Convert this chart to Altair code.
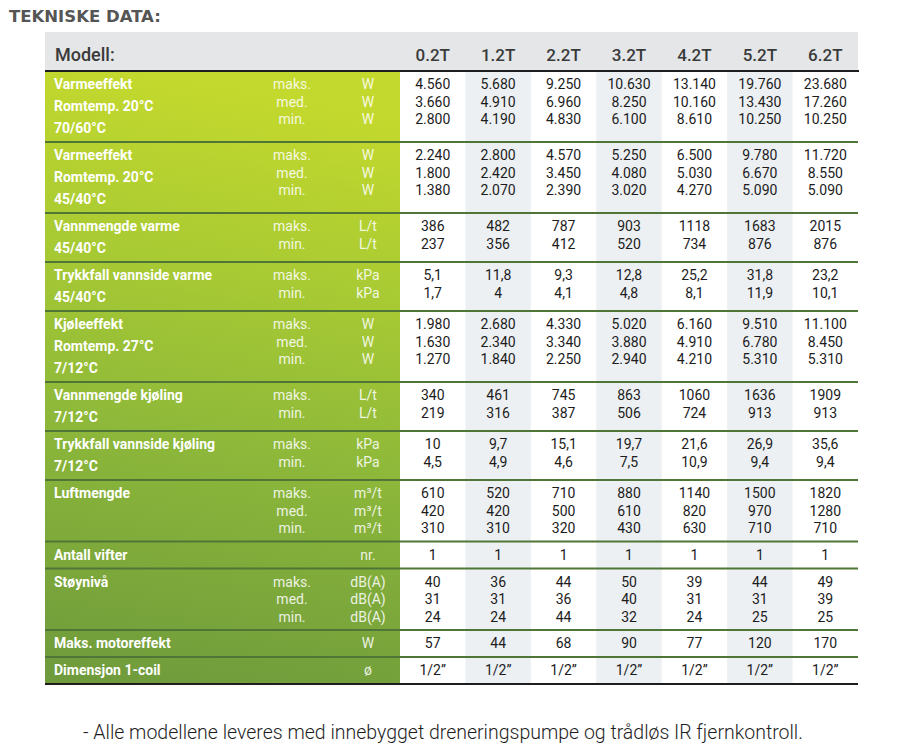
import altair as alt
import pandas as pd

# ---------------- data ----------------
title_text = "TEKNISKE DATA:"
header_label = "Modell:"
footnote = "- Alle modellene leveres med innebygget dreneringspumpe og trådløs IR fjernkontroll."

models = ["0.2T", "1.2T", "2.2T", "3.2T", "4.2T", "5.2T", "6.2T"]

row_labels = [
    ["Varmeeffekt", "Romtemp. 20°C", "70/60°C"],
    ["Varmeeffekt", "Romtemp. 20°C", "45/40°C"],
    ["Vannmengde varme", "45/40°C"],
    ["Trykkfall vannside varme", "45/40°C"],
    ["Kjøleeffekt", "Romtemp. 27°C", "7/12°C"],
    ["Vannmengde kjøling", "7/12°C"],
    ["Trykkfall vannside kjøling", "7/12°C"],
    ["Luftmengde"],
    ["Antall vifter"],
    ["Støynivå"],
    ["Maks. motoreffekt"],
    ["Dimensjon 1-coil"],
]

row_levels = [
    ["maks.", "med.", "min."],
    ["maks.", "med.", "min."],
    ["maks.", "min."],
    ["maks.", "min."],
    ["maks.", "med.", "min."],
    ["maks.", "min."],
    ["maks.", "min."],
    ["maks.", "med.", "min."],
    [""],
    ["maks.", "med.", "min."],
    [""],
    [""],
]

row_units = [
    ["W", "W", "W"],
    ["W", "W", "W"],
    ["L/t", "L/t"],
    ["kPa", "kPa"],
    ["W", "W", "W"],
    ["L/t", "L/t"],
    ["kPa", "kPa"],
    ["m³/t", "m³/t", "m³/t"],
    ["nr."],
    ["dB(A)", "dB(A)", "dB(A)"],
    ["W"],
    ["ø"],
]

row_values = [
    [["4.560", "5.680", "9.250", "10.630", "13.140", "19.760", "23.680"],
     ["3.660", "4.910", "6.960", "8.250", "10.160", "13.430", "17.260"],
     ["2.800", "4.190", "4.830", "6.100", "8.610", "10.250", "10.250"]],
    [["2.240", "2.800", "4.570", "5.250", "6.500", "9.780", "11.720"],
     ["1.800", "2.420", "3.450", "4.080", "5.030", "6.670", "8.550"],
     ["1.380", "2.070", "2.390", "3.020", "4.270", "5.090", "5.090"]],
    [["386", "482", "787", "903", "1118", "1683", "2015"],
     ["237", "356", "412", "520", "734", "876", "876"]],
    [["5,1", "11,8", "9,3", "12,8", "25,2", "31,8", "23,2"],
     ["1,7", "4", "4,1", "4,8", "8,1", "11,9", "10,1"]],
    [["1.980", "2.680", "4.330", "5.020", "6.160", "9.510", "11.100"],
     ["1.630", "2.340", "3.340", "3.880", "4.910", "6.780", "8.450"],
     ["1.270", "1.840", "2.250", "2.940", "4.210", "5.310", "5.310"]],
    [["340", "461", "745", "863", "1060", "1636", "1909"],
     ["219", "316", "387", "506", "724", "913", "913"]],
    [["10", "9,7", "15,1", "19,7", "21,6", "26,9", "35,6"],
     ["4,5", "4,9", "4,6", "7,5", "10,9", "9,4", "9,4"]],
    [["610", "520", "710", "880", "1140", "1500", "1820"],
     ["420", "420", "500", "610", "820", "970", "1280"],
     ["310", "310", "320", "430", "630", "710", "710"]],
    [["1", "1", "1", "1", "1", "1", "1"]],
    [["40", "36", "44", "50", "39", "44", "49"],
     ["31", "31", "36", "40", "31", "31", "39"],
     ["24", "24", "44", "32", "24", "25", "25"]],
    [["57", "44", "68", "90", "77", "120", "170"]],
    [["1/2”", "1/2”", "1/2”", "1/2”", "1/2”", "1/2”", "1/2”"]],
]

# ---------------- layout ----------------
W, H, M = 884, 736, 8
TABLE_L, TABLE_R, GREEN_R = 45, 858, 400
HEAD_TOP, HEAD_BOT = 32, 71
LABEL_X, LEVEL_X, UNIT_X = 54, 292, 368
LABEL_STEP, VALUE_STEP, FIRST = 22, 17.5, 14
col_w = (TABLE_R - GREEN_R) / len(models)
col_c = [GREEN_R + col_w * (i + 0.5) for i in range(len(models))]

tops = []
y = HEAD_BOT
for labs, lev in zip(row_labels, row_levels):
    tops.append(y)
    h = max(LABEL_STEP * len(labs) + 5, VALUE_STEP * len(lev) + 9)
    y += h
bottom = y

xs = alt.Scale(domain=[M, M + W], nice=False, zero=False)
ys = alt.Scale(domain=[M, M + H], nice=False, zero=False, reverse=True)
X = alt.X("x:Q", scale=xs, axis=None)
X2 = alt.X2("x2:Q")
Y = alt.Y("y:Q", scale=ys, axis=None)
Y2 = alt.Y2("y2:Q")

# backgrounds
head_df = pd.DataFrame([{"x": TABLE_L, "x2": TABLE_R, "y": HEAD_TOP, "y2": HEAD_BOT}])
head_bg = alt.Chart(head_df).mark_rect(color="#e4e6e8").encode(x=X, x2=X2, y=Y, y2=Y2)

green_df = pd.DataFrame([{"x": TABLE_L, "x2": GREEN_R, "y": HEAD_BOT, "y2": bottom}])
green_bg = alt.Chart(green_df).mark_rect(
    fill=alt.LinearGradient(
        gradient="linear",
        stops=[
            alt.GradientStop(color="#c4d92d", offset=0),
            alt.GradientStop(color="#a8ca33", offset=0.3),
            alt.GradientStop(color="#8cb73a", offset=0.6),
            alt.GradientStop(color="#6f9b3c", offset=1),
        ],
        x1=0.3, x2=0.2, y1=0, y2=1,
    )
).encode(x=X, x2=X2, y=Y, y2=Y2)

stripe_df = pd.DataFrame([
    {"x": GREEN_R + col_w * i, "x2": GREEN_R + col_w * (i + 1), "y": HEAD_BOT, "y2": bottom}
    for i in range(len(models)) if i % 2 == 1
])
stripes = alt.Chart(stripe_df).mark_rect(color="#edf0f3").encode(x=X, x2=X2, y=Y, y2=Y2)

sep_df = pd.DataFrame([{"x": TABLE_L, "x2": TABLE_R, "y": t} for t in tops[1:]])
seps = alt.Chart(sep_df).mark_rule(color="#4f7636", strokeWidth=2).encode(x=X, x2=X2, y=Y)

edge_df = pd.DataFrame([{"x": TABLE_L, "x2": TABLE_R + 1, "y": HEAD_BOT},
                        {"x": TABLE_L, "x2": TABLE_R, "y": bottom}])
edges = alt.Chart(edge_df).mark_rule(color="#1e1e1e", strokeWidth=2).encode(x=X, x2=X2, y=Y)

# texts
def text_layer(df, **kw):
    return alt.Chart(df).mark_text(**kw).encode(x=X, y=Y, text="t:N")

title = text_layer(pd.DataFrame([{"x": 9, "y": 9, "t": title_text}]),
                   align="left", baseline="top", font="DejaVu Sans", fontSize=16.5,
                   fontWeight="bold", color="#555555")
foot = text_layer(pd.DataFrame([{"x": 83, "y": 733, "t": footnote}]),
                  align="left", baseline="middle", font="Roboto", fontSize=19.5, fontWeight=300,
                  color="#1e1e1e")
head_lbl = text_layer(pd.DataFrame([{"x": 55, "y": 56, "t": header_label}]),
                      align="left", baseline="middle", font="Roboto", fontSize=18,
                      fontWeight=500, color="#3a3a3a")
head_models = text_layer(pd.DataFrame([{"x": c, "y": 56, "t": m} for c, m in zip(col_c, models)]),
                         align="center", baseline="middle", font="Roboto", fontSize=17,
                         fontWeight=500, color="#3a3a3a")

lab_rows, lev_rows, unit_rows, val_rows = [], [], [], []
for r, top in enumerate(tops):
    for k, s in enumerate(row_labels[r]):
        lab_rows.append({"x": LABEL_X, "y": top + FIRST + LABEL_STEP * k, "t": s})
    for k, s in enumerate(row_levels[r]):
        lev_rows.append({"x": LEVEL_X, "y": top + FIRST + VALUE_STEP * k, "t": s})
    for k, s in enumerate(row_units[r]):
        unit_rows.append({"x": UNIT_X, "y": top + FIRST + VALUE_STEP * k, "t": s})
    for k, vals in enumerate(row_values[r]):
        for c, v in zip(col_c, vals):
            val_rows.append({"x": c, "y": top + FIRST + VALUE_STEP * k, "t": v})

labels = text_layer(pd.DataFrame(lab_rows), align="left", baseline="middle", font="Roboto",
                    fontSize=14, fontWeight="bold", color="#ffffff")
levels = text_layer(pd.DataFrame(lev_rows), align="center", baseline="middle", font="Roboto",
                    fontSize=14, color="#ffffff", opacity=0.85)
units = text_layer(pd.DataFrame(unit_rows), align="center", baseline="middle", font="Roboto",
                   fontSize=14, color="#ffffff", opacity=0.85)
values = text_layer(pd.DataFrame(val_rows), align="center", baseline="middle", font="Roboto",
                    fontSize=14, color="#1c1c1c")

chart = alt.layer(
    head_bg, green_bg, stripes, seps, edges,
    title, foot, head_lbl, head_models, labels, levels, units, values,
).properties(
    width=W, height=H, padding=0, autosize="none", background="#ffffff"
).configure_view(stroke=None)

chart.save("out.html", embed_options={"renderer": "svg", "actions": False})
